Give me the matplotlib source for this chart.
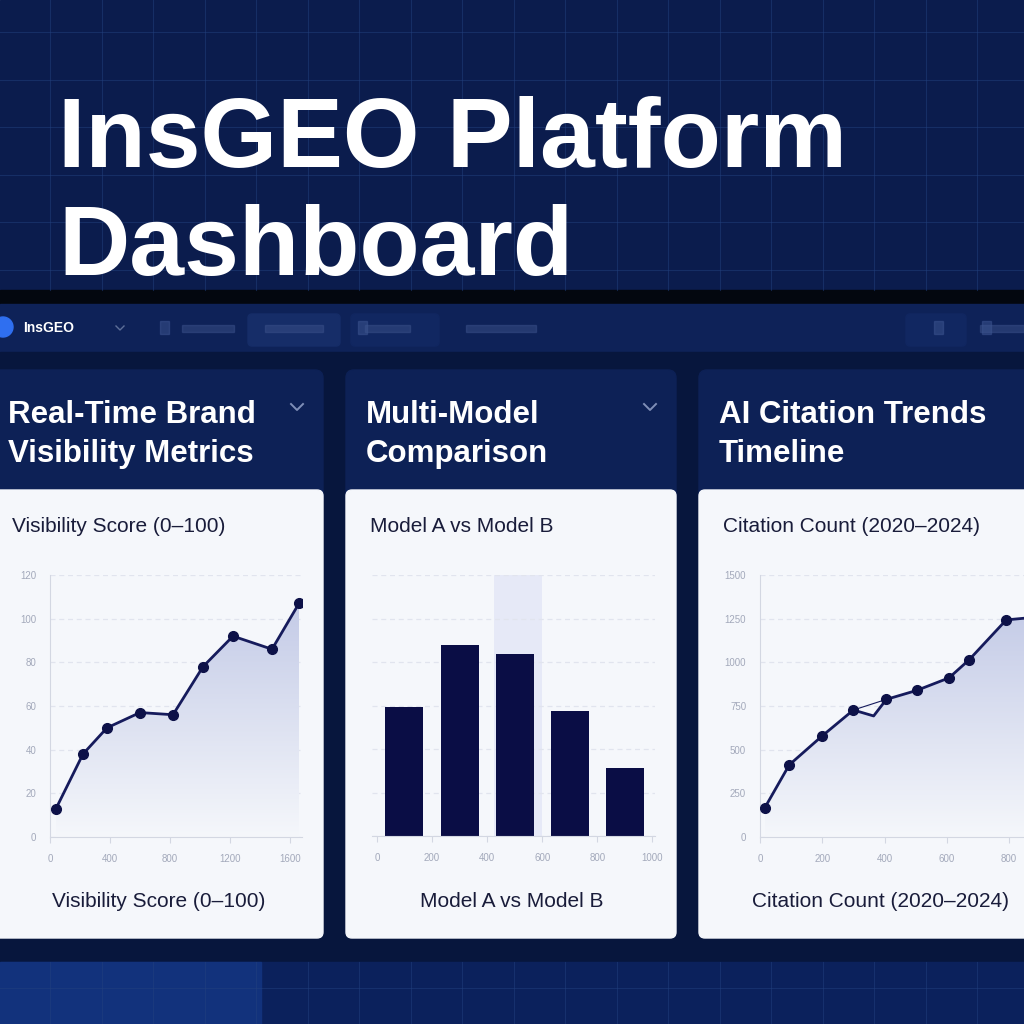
import matplotlib
matplotlib.use("Agg")
import matplotlib.pyplot as plt
import numpy as np
from matplotlib.patches import Rectangle, FancyBboxPatch, Circle
from matplotlib.colors import LinearSegmentedColormap

plt.rcParams['font.family'] = ['Liberation Sans', 'DejaVu Sans']

W, H = 1024, 1024

# data
title_lines = ["InsGEO Platform", "Dashboard"]
card_titles = [["Real-Time Brand", "Visibility Metrics"],
               ["Multi-Model", "Comparison"],
               ["AI Citation Trends", "Timeline"]]
card_subtitles = ["Visibility Score (0\u2013100)", "Model A vs Model B", "Citation Count (2020\u20132024)"]

vis_x = [40, 220, 380, 600, 820, 1020, 1220, 1480, 1660]
vis_y = [13, 38, 50, 57, 56, 78, 92, 86, 107]
vis_yticks = [0, 20, 40, 60, 80, 100, 120]
vis_xticks = [0, 400, 800, 1200, 1600]

bar_vals = [59.5, 87.7, 83.6, 57.7, 31.4]
bar_xticklabels = ["0", "200", "400", "600", "800", "1000"]
bar_yticks = [0, 20, 40, 60, 80, 100, 120]

cite_x = [15, 94, 198, 300, 365, 406, 503, 607, 672, 791, 870]
cite_y = [166, 413, 576, 727, 693, 788, 839, 911, 1015, 1243, 1256]
cite_marked = [0, 1, 2, 3, 5, 6, 7, 8, 9]
cite_yticks = [0, 250, 500, 750, 1000, 1250, 1500]
cite_xticks = [0, 200, 400, 600, 800]

navy_line = '#161b5c'
bar_color = '#0a0d45'
tick_col = '#a3a9bb'
grid_col = '#e1e4ee'
spine_col = '#d3d7e2'
panel_bg = '#f5f7fb'
text_dark = '#191c3a'
bg_grid = '#22407e'

fig = plt.figure(figsize=(W / 100, H / 100), dpi=100)
bg = fig.add_axes([0, 0, 1, 1])
bg.set_xlim(0, W)
bg.set_ylim(H, 0)
bg.axis('off')

# page background
bg.add_patch(Rectangle((0, 0), W, 290, color='#0b1c4d', zorder=0))
bg.add_patch(Rectangle((0, 290), W, 14, color='#03070f', zorder=0))
bg.add_patch(Rectangle((0, 304), W, 48, color='#0e2258', zorder=0))
bg.add_patch(Rectangle((0, 352), W, 610, color='#07163d', zorder=0))
bg.add_patch(Rectangle((0, 962), W, 62, color='#0b215c', zorder=0))
bg.add_patch(Rectangle((0, 962), 261, 62, color='#12327c', zorder=0))
for gx in np.arange(50, W, 51.5):
    bg.plot([gx, gx], [0, 290], color=bg_grid, lw=0.8, alpha=0.5, zorder=1)
    bg.plot([gx, gx], [962, 1024], color=bg_grid, lw=0.8, alpha=0.5, zorder=1)
for gy in np.arange(32, 290, 47.5):
    bg.plot([0, W], [gy, gy], color=bg_grid, lw=0.8, alpha=0.5, zorder=1)
bg.plot([0, W], [988, 988], color=bg_grid, lw=0.8, alpha=0.5, zorder=1)

# title
bg.text(58, 167, title_lines[0], fontsize=71, weight='bold', color='white', va='baseline', zorder=3)
bg.text(58, 275, title_lines[1], fontsize=71, weight='bold', color='white', va='baseline', zorder=3)

# nav bar (blurred placeholder items)
bg.add_patch(Circle((3, 327), 10, color='#2f6ff0', zorder=3))
bg.text(23, 328, "InsGEO", fontsize=10, weight='bold', color='white', va='center', zorder=3)
bg.plot([116, 120, 124], [326, 330, 326], color='#5d6f98', lw=1, zorder=3)
bg.add_patch(FancyBboxPatch((252, 318), 84, 24, boxstyle="round,pad=4", color='#162d68', zorder=2))
bg.add_patch(FancyBboxPatch((355, 318), 80, 24, boxstyle="round,pad=4", color='#112761', zorder=2))
bg.add_patch(FancyBboxPatch((910, 318), 52, 24, boxstyle="round,pad=4", color='#112761', zorder=2))
for tx, tw in [(182, 52), (265, 58), (365, 45), (466, 70), (980, 44)]:
    bg.add_patch(Rectangle((tx, 325), tw, 7, color='#3a5088', alpha=0.5, zorder=3))
for ix in [160, 358, 934, 982]:
    bg.add_patch(Rectangle((ix, 321), 9, 13, color='#3d5590', alpha=0.5, zorder=3))

# cards
card_x = [(-20, 323), (346, 676), (699, 1044)]
for i, (x0, x1) in enumerate(card_x):
    bg.add_patch(FancyBboxPatch((x0 + 8, 378), x1 - x0 - 16, 120, boxstyle="round,pad=8",
                                color='#0d2156', zorder=2))
    bg.add_patch(FancyBboxPatch((x0 + 6, 496), x1 - x0 - 12, 436, boxstyle="round,pad=6",
                                color=panel_bg, zorder=2))
    tx = max(x0, 0) + (8 if i == 0 else 20)
    bg.text(tx, 423, card_titles[i][0], fontsize=22.5, weight='bold', color='white', va='baseline', zorder=3)
    bg.text(tx, 462, card_titles[i][1], fontsize=22.5, weight='bold', color='white', va='baseline', zorder=3)
    bg.text(tx + 4, 532, card_subtitles[i], fontsize=15, color=text_dark, va='baseline', zorder=3)
for cx in [297, 650]:
    bg.plot([cx - 6, cx, cx + 6], [404, 410, 404], color='#7f8fb8', lw=1.4, zorder=3)
for cx, cap in zip([159, 512, 880], card_subtitles):
    bg.text(cx, 907, cap, fontsize=15, color=text_dark, va='baseline', ha='center', zorder=3)


def panel_axes(x0, y0, x1, y1):
    ax = fig.add_axes([x0 / W, 1 - y1 / H, (x1 - x0) / W, (y1 - y0) / H])
    ax.patch.set_alpha(0)
    return ax


def style_axes(ax, left=True):
    for s in ['top', 'right']:
        ax.spines[s].set_visible(False)
    ax.spines['left'].set_visible(left)
    ax.spines['left'].set_color(spine_col)
    ax.spines['bottom'].set_color(spine_col)
    ax.tick_params(axis='y', length=0, pad=10, labelsize=7, labelcolor=tick_col)
    ax.tick_params(axis='x', length=4, color=spine_col, pad=8, labelsize=7, labelcolor=tick_col)
    ax.grid(axis='y', color=grid_col, lw=0.9, ls=(0, (4, 3)))
    ax.set_axisbelow(True)


fill_cmap = LinearSegmentedColormap.from_list('fade', ['#f5f7fb', '#c4cbe7'])


def gradient_fill(ax, xs, ys, ymax):
    poly = ax.fill_between(xs, ys, 0, color='none', lw=0)
    grad = np.linspace(0, 1, 256).reshape(-1, 1)
    im = ax.imshow(grad, extent=[min(xs), max(xs), 0, ymax], origin='lower', aspect='auto',
                   cmap=fill_cmap, zorder=1)
    im.set_clip_path(poly.get_paths()[0], transform=ax.transData)


# panel 1: visibility line
ax1 = panel_axes(50, 575, 302, 837)
style_axes(ax1)
gradient_fill(ax1, vis_x, vis_y, vis_y[-1])
ax1.plot(vis_x, vis_y, color=navy_line, lw=2, marker='o', ms=7, mfc='#0d1148', mec='#0d1148', zorder=3)
ax1.set_xlim(0, 1680)
ax1.set_ylim(0, 120)
ax1.set_yticks(vis_yticks)
ax1.set_xticks(vis_xticks)

# panel 2: model comparison bars
ax2 = panel_axes(372, 575, 655, 836)
style_axes(ax2, left=False)
bar_pos = np.arange(len(bar_vals)) + 0.5
ax2.axvspan(2.13, 3.0, color='#e6e9f7', zorder=0.5, lw=0)
ax2.bar(bar_pos, bar_vals, width=0.69, color=bar_color, zorder=2)
ax2.set_xlim(-0.09, 5.05)
ax2.set_ylim(0, 120)
ax2.set_yticks(bar_yticks)
ax2.set_yticklabels([])
ax2.set_xticks(range(len(bar_xticklabels)))
ax2.set_xticklabels(bar_xticklabels)

# panel 3: citation timeline
ax3 = panel_axes(760, 575, 1024, 837)
style_axes(ax3)
gradient_fill(ax3, cite_x, cite_y, 1300)
ax3.plot(cite_x, cite_y, color=navy_line, lw=2, zorder=3)
ax3.plot([cite_x[3], cite_x[5]], [cite_y[3], cite_y[5]], color=navy_line, lw=0.8, zorder=3)
ax3.plot([cite_x[i] for i in cite_marked], [cite_y[i] for i in cite_marked], 'o', ms=7,
         color='#0d1148', zorder=4)
ax3.set_xlim(0, 848)
ax3.set_ylim(0, 1500)
ax3.set_yticks(cite_yticks)
ax3.set_xticks(cite_xticks)

fig.savefig("out.png", dpi=100)
